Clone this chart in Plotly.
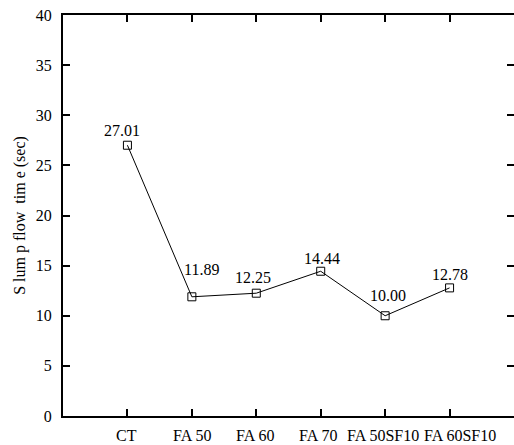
import plotly.graph_objects as go

categories = ["CT", "FA 50", "FA 60", "FA 70", "FA 50SF10", "FA 60SF10"]
values = [27.01, 11.89, 12.25, 14.44, 10.00, 12.78]
labels = ["27.01", "11.89", "12.25", "14.44", "10.00", "12.78"]
y_ticks = [0, 5, 10, 15, 20, 25, 30, 35, 40]

# label offsets in pixels (style only)
label_dx = [-5, 10, -3, 1, 3, 0]
label_dy = [15, 27, 16, 13, 20, 13]
cat_dx = [-1, 0, -1, -3, -2, 10]

FONT = "Liberation Serif, Times New Roman, serif"

fig = go.Figure()
xs = list(range(len(categories)))
fig.add_trace(go.Scatter(
    x=xs, y=values,
    mode="lines+markers",
    line=dict(color="black", width=1),
    marker=dict(symbol="square-open", size=8, color="black", line=dict(width=1)),
    cliponaxis=False,
    showlegend=False,
))

for i, (v, t) in enumerate(zip(values, labels)):
    fig.add_annotation(x=xs[i], y=v, text=t, showarrow=False,
                       xanchor="center", yanchor="middle",
                       xshift=label_dx[i], yshift=label_dy[i],
                       font=dict(family=FONT, size=16, color="black"))

for i, c in enumerate(categories):
    fig.add_annotation(x=xs[i], y=0, yref="paper", text=c, showarrow=False,
                       xanchor="center", yanchor="top",
                       xshift=cat_dx[i], yshift=-9,
                       font=dict(family=FONT, size=16, color="black"))

fig.update_layout(
    width=514, height=445,
    margin=dict(l=63, r=0, t=15, b=29),
    paper_bgcolor="white", plot_bgcolor="white",
    font=dict(family=FONT, size=16, color="black"),
)
fig.update_xaxes(
    range=[-1, 6], tickmode="array",
    tickvals=xs, showticklabels=False,
    automargin=False,
    ticks="inside", ticklen=7, tickwidth=1.5, tickcolor="black",
    showline=True, linecolor="black", linewidth=2, mirror="ticks",
    showgrid=False, zeroline=False,
)
fig.update_yaxes(
    range=[0, 40], tickmode="array", tickvals=y_ticks,
    automargin=False,
    ticks="inside", ticklen=7, tickwidth=1.5, tickcolor="black",
    showline=True, linecolor="black", linewidth=2, mirror="ticks",
    showgrid=False, zeroline=False, ticklabelstandoff=6,
    tickfont=dict(family=FONT, size=16),
    title=dict(text="S lum p flow  tim e (sec)", standoff=6,
               font=dict(family=FONT, size=16)),
)

fig.write_html("out.html")
